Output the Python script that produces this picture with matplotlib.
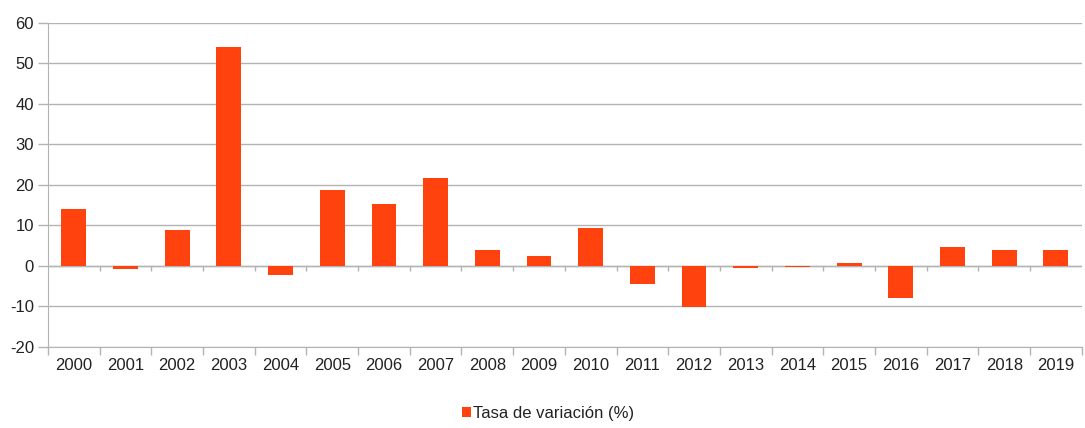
import numpy as np
import matplotlib
matplotlib.use('Agg')
import matplotlib.pyplot as plt

plt.rcParams['font.family'] = ['Liberation Sans', 'DejaVu Sans']

# Datos
years = ['2000', '2001', '2002', '2003', '2004', '2005', '2006', '2007', '2008', '2009',
         '2010', '2011', '2012', '2013', '2014', '2015', '2016', '2017', '2018', '2019']
tasa = [14.1, -0.7, 8.7, 54.0, -2.2, 18.8, 15.3, 21.7, 3.9, 2.3,
        9.3, -4.4, -10.2, -0.6, -0.3, 0.7, -7.9, 4.5, 3.9, 3.9]
yticks = [-20, -10, 0, 10, 20, 30, 40, 50, 60]

bar_color = '#ff420e'
grid_color = '#b3b3b3'

fig = plt.figure(figsize=(10.85, 4.28), dpi=100)
ax = fig.add_axes([0.0442, 0.19, 0.9528, 0.757])

x = np.arange(len(years))
ax.bar(x, tasa, width=0.48, color=bar_color, zorder=3, label='Tasa de variación (%)')

ax.set_xlim(-0.5, len(years) - 0.5)
ax.set_ylim(-20, 60)
ax.set_yticks(yticks)
ax.set_yticklabels([str(v) for v in yticks])
ax.yaxis.grid(True, color=grid_color, linewidth=1.0, zorder=0)

# eje x: etiquetas en el centro, marcas en los límites de categoría
ax.set_xticks(x)
ax.set_xticklabels(years)
ax.set_xticks(np.arange(len(years) + 1) - 0.5, minor=True)
ax.tick_params(axis='x', which='major', length=0, pad=8)
ax.tick_params(axis='x', which='minor', length=6, color=grid_color, width=1)
ax.tick_params(axis='y', length=7, color=grid_color, width=1, pad=3)
ax.tick_params(labelsize=12, labelcolor='#222222')

# línea del cero con marcas
ax.axhline(0, color=grid_color, linewidth=1.0, zorder=2)
ax.vlines(np.arange(len(years) + 1)[1:-1] - 0.5, -1.4, 0, color=grid_color, linewidth=1.0, zorder=2)

for side in ['top', 'right']:
    ax.spines[side].set_visible(False)
ax.spines['left'].set_color(grid_color)
ax.spines['bottom'].set_color(grid_color)

fig.legend(loc='center', bbox_to_anchor=(0.505, 0.035), frameon=False, fontsize=12,
           handlelength=0.55, handleheight=0.55, handletextpad=0.15, labelcolor='#222222')

fig.savefig('out.png', dpi=100, facecolor='white')
